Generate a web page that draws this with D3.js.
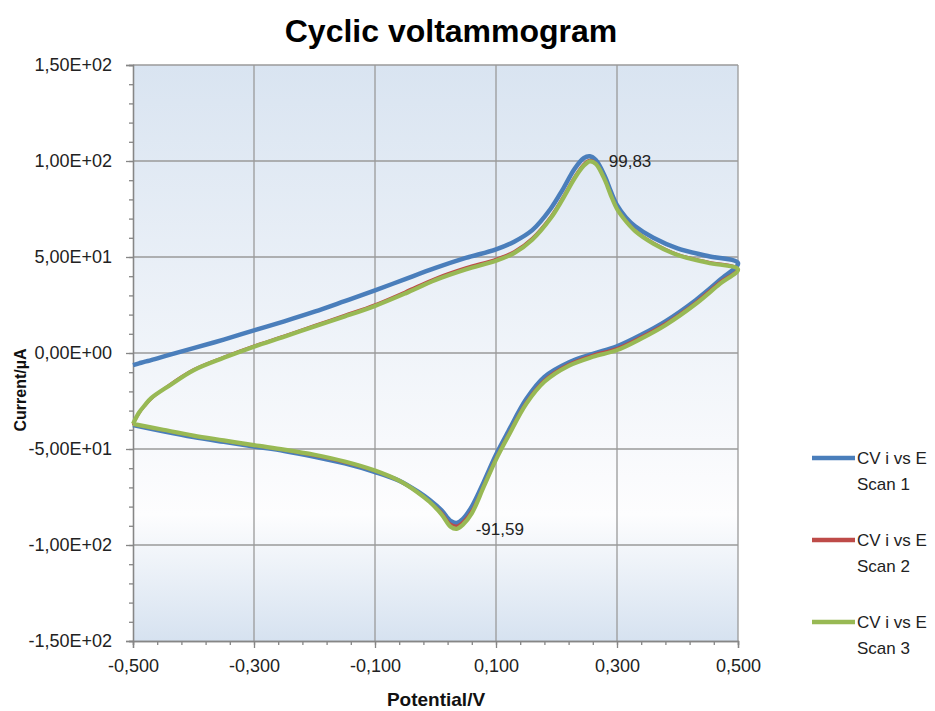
<!DOCTYPE html>
<html>
<head>
<meta charset="utf-8">
<script src="https://cdn.jsdelivr.net/npm/d3@7"></script>
<style>
  body { margin: 0; background: #fff; }
  svg text { font-family: "Liberation Sans", Arial, sans-serif; }
</style>
</head>
<body>
<div id="app"></div>
<script>
// potentials (V) for the forward and reverse sweeps
const potentialFwd = [-0.5, -0.49, -0.48, -0.47, -0.44, -0.4, -0.35, -0.3, -0.25, -0.2, -0.15, -0.1, -0.05, 0, 0.05, 0.1, 0.13, 0.16, 0.19, 0.21, 0.23, 0.245, 0.255, 0.265, 0.28, 0.29, 0.3, 0.315, 0.33, 0.36, 0.4, 0.45, 0.5];
const potentialRev = [0.47, 0.43, 0.38, 0.34, 0.3, 0.26, 0.22, 0.18, 0.15, 0.12, 0.1, 0.08, 0.06, 0.045, 0.035, 0.025, 0.01, -0.01, -0.03, -0.06, -0.1, -0.15, -0.2, -0.25, -0.3, -0.35, -0.4, -0.45, -0.5];

// currents (µA)
const scan1Fwd = [-6.3, -5.4, -4.5, -3.7, -1, 2.5, 7, 11.8, 16.5, 21.5, 27, 32.6, 38.5, 44.3, 49.5, 54, 58, 64, 75, 85, 96, 101.5, 102.5, 100.5, 92, 84, 77, 70.5, 66, 60, 54.5, 50.5, 46.8];
const scan1Rev = [38, 27.5, 16.5, 9.5, 3.5, -0.5, -5, -12.5, -24, -41, -53, -67, -80, -86.5, -88.5, -87.5, -82, -76.5, -72, -66.5, -62, -57.5, -54, -51, -48.7, -46.3, -43.8, -40.8, -37.5];
const scan2Fwd = [-37.5, -31.5, -27.5, -24, -16.5, -8.5, -2, 3.8, 9, 14.5, 19.8, 25.3, 32, 39, 44.5, 49, 53, 60, 71, 81, 92, 98.5, 100.5, 99, 90.5, 82.5, 75.5, 69, 64, 57.5, 51.5, 47.5, 44];
const scan2Rev = [37, 26.5, 15.5, 8.5, 2.5, -1, -5.8, -14, -25.5, -42.5, -54.5, -68.5, -82, -88, -90, -89, -83, -77.3, -72.5, -66.8, -61.5, -57, -53.5, -50.6, -48.3, -45.8, -43.3, -40.3, -37.2];
const scan3Fwd = [-36.9, -31, -27, -23.5, -17, -9, -2.5, 3.3, 8.5, 13.8, 19, 24.5, 31, 38, 43.5, 48, 52, 59, 70, 80, 91, 97.5, 99.8, 98.5, 90, 82, 75, 68.5, 63.5, 57, 51, 47, 43.5];
const scan3Rev = [36, 25.5, 14.5, 7.5, 1.5, -2, -6.7, -15, -26.5, -43.5, -55.5, -69.5, -83.5, -89.5, -91.6, -90.5, -84, -77.5, -72.5, -66.5, -61.2, -56.5, -53, -50.3, -48, -45.5, -43, -40, -36.9];

const seriesNames = ['CV i vs E Scan 1', 'CV i vs E Scan 2', 'CV i vs E Scan 3'];
const seriesColors = ['#4a7ebb', '#be4b48', '#98b954'];

const xTicks = [-0.5, -0.3, -0.1, 0.1, 0.3, 0.5];
const xTickLabels = ['-0,500', '-0,300', '-0,100', '0,100', '0,300', '0,500'];
const yTicks = [150, 100, 50, 0, -50, -100, -150];
const yTickLabels = ['1,50E+02', '1,00E+02', '5,00E+01', '0,00E+00', '-5,00E+01', '-1,00E+02', '-1,50E+02'];

// peak annotations
const peakLabels = [
  { e: 0.255, i: 99.83, text: '99,83' },
  { e: 0.035, i: -91.59, text: '-91,59' }
];

const width = 935, height = 711;
const margin = { left: 133, right: 197, top: 65, bottom: 70 };

const x = d3.scaleLinear().domain([-0.5, 0.5]).range([margin.left, width - margin.right]);
const y = d3.scaleLinear().domain([-150, 150]).range([height - margin.bottom, margin.top]);

const svg = d3.select('#app').append('svg').attr('width', width).attr('height', height);

// plot area gradient
const grad = svg.append('defs').append('linearGradient')
    .attr('id', 'bg').attr('x1', 0).attr('y1', 0).attr('x2', 0).attr('y2', 1);
grad.append('stop').attr('offset', '0%').attr('stop-color', '#d9e4f1');
grad.append('stop').attr('offset', '78%').attr('stop-color', '#fdfdfe');
grad.append('stop').attr('offset', '100%').attr('stop-color', '#d6e2f0');

svg.append('rect')
    .attr('x', x(-0.5)).attr('y', y(150))
    .attr('width', x(0.5) - x(-0.5)).attr('height', y(-150) - y(150))
    .attr('fill', 'url(#bg)');

// grid
const grid = svg.append('g').attr('stroke', '#9a9a9a').attr('stroke-width', 1.3);
grid.selectAll('.gx').data(xTicks.slice(1)).enter().append('line')
    .attr('x1', d => x(d)).attr('x2', d => x(d))
    .attr('y1', y(150)).attr('y2', y(-150));
grid.selectAll('.gy').data(yTicks.slice(0, -1)).enter().append('line')
    .attr('x1', x(-0.5)).attr('x2', x(0.5))
    .attr('y1', d => y(d)).attr('y2', d => y(d));

// axes: minor ticks first, then major ticks with labels
svg.append('g').attr('transform', `translate(0,${y(-150)})`)
    .call(d3.axisBottom(x).tickValues(d3.range(-0.5, 0.5001, 0.04)).tickSize(4).tickFormat(''));
svg.append('g').attr('transform', `translate(${x(-0.5)},0)`)
    .call(d3.axisLeft(y).tickValues(d3.range(-150, 150.001, 10)).tickSize(4).tickFormat(''));
const xAxis = svg.append('g').attr('transform', `translate(0,${y(-150)})`)
    .call(d3.axisBottom(x).tickValues(xTicks).tickSize(7).tickPadding(11).tickFormat((d, i) => xTickLabels[i]));
const yAxis = svg.append('g').attr('transform', `translate(${x(-0.5)},0)`)
    .call(d3.axisLeft(y).tickValues(yTicks).tickSize(7).tickPadding(14).tickFormat((d, i) => yTickLabels[i]));

svg.selectAll('.domain').attr('stroke', '#868686').attr('stroke-width', 1.3);
svg.selectAll('.tick line').attr('stroke', '#868686').attr('stroke-width', 1.3);
svg.selectAll('.tick text')
    .attr('font-family', '"Liberation Sans", Arial, sans-serif')
    .attr('font-size', 18).attr('fill', '#222');

// curves
const scans = [
  potentialFwd.map((e, k) => [e, scan1Fwd[k]]).concat(potentialRev.map((e, k) => [e, scan1Rev[k]])),
  potentialFwd.map((e, k) => [e, scan2Fwd[k]]).concat(potentialRev.map((e, k) => [e, scan2Rev[k]])),
  potentialFwd.map((e, k) => [e, scan3Fwd[k]]).concat(potentialRev.map((e, k) => [e, scan3Rev[k]]))
];
const widths = [4.5, 2.5, 4.2];
const line = d3.line().x(d => x(d[0])).y(d => y(d[1])).curve(d3.curveCatmullRom.alpha(0.5));

svg.append('g').selectAll('path').data(scans).enter().append('path')
    .attr('d', line)
    .attr('fill', 'none')
    .attr('stroke', (d, i) => seriesColors[i])
    .attr('stroke-width', (d, i) => widths[i])
    .attr('stroke-linejoin', 'round');

// peak labels
svg.append('g').selectAll('text').data(peakLabels).enter().append('text')
    .attr('x', d => x(d.e) + 19)
    .attr('y', d => y(d.i) + 6)
    .attr('font-size', 17).attr('fill', '#222')
    .text(d => d.text);

// title and axis titles
svg.append('text')
    .attr('x', 451).attr('y', 42)
    .attr('text-anchor', 'middle')
    .attr('font-size', 32).attr('font-weight', 700).attr('fill', '#000')
    .text('Cyclic voltammogram');

svg.append('text')
    .attr('x', 436).attr('y', 706)
    .attr('text-anchor', 'middle')
    .attr('font-size', 19).attr('font-weight', 700).attr('fill', '#111')
    .text('Potential/V');

svg.append('text')
    .attr('transform', 'translate(26,390) rotate(-90)')
    .attr('text-anchor', 'middle')
    .attr('font-size', 16).attr('font-weight', 700).attr('fill', '#111')
    .text('Current/µA');

// legend
const legend = svg.append('g').selectAll('g').data(seriesNames).enter().append('g')
    .attr('transform', (d, i) => `translate(812,${458 + i * 82})`);
legend.append('line')
    .attr('x1', 0).attr('x2', 43).attr('y1', 0).attr('y2', 0)
    .attr('stroke', (d, i) => seriesColors[i]).attr('stroke-width', 4.5);
legend.append('text')
    .attr('x', 45).attr('y', 6)
    .attr('font-size', 17).attr('fill', '#222')
    .text('CV i vs E');
legend.append('text')
    .attr('x', 45).attr('y', 32)
    .attr('font-size', 17).attr('fill', '#222')
    .text((d, i) => 'Scan ' + (i + 1));
</script>
</body>
</html>
